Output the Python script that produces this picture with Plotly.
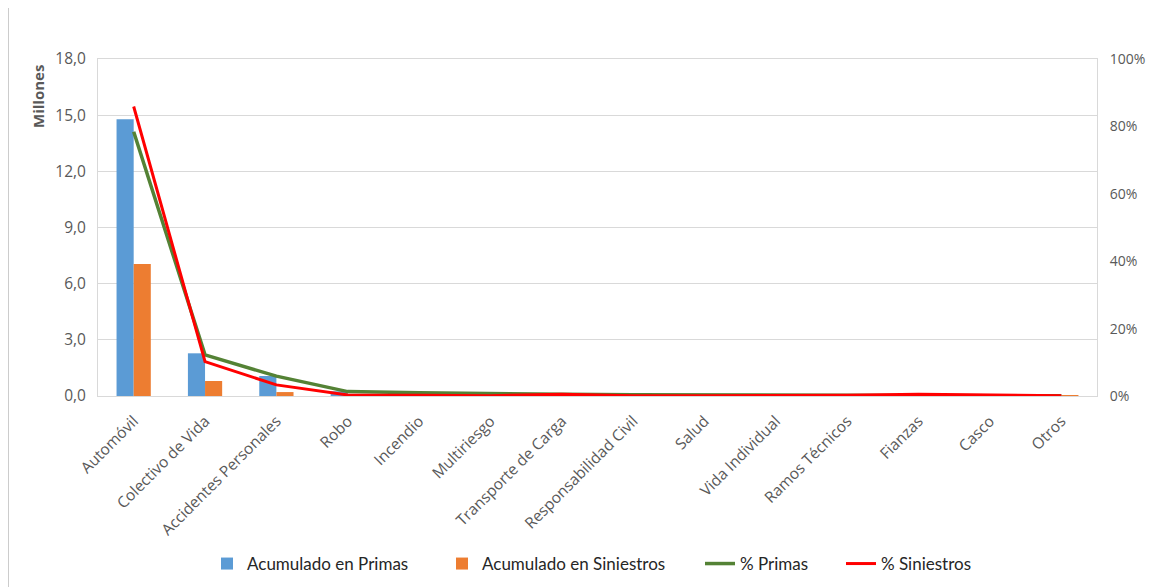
import plotly.graph_objects as go

categorias = ["Automóvil", "Colectivo de Vida", "Accidentes Personales", "Robo", "Incendio",
              "Multiriesgo", "Transporte de Carga", "Responsabilidad Civil", "Salud",
              "Vida Individual", "Ramos Técnicos", "Fianzas", "Casco", "Otros"]
acum_primas = [14.78, 2.28, 1.07, 0.25, 0.17, 0.12, 0.10, 0.07, 0.05, 0.04, 0.04, 0.03, 0.02, 0.01]
acum_siniestros = [7.05, 0.80, 0.21, 0.03, 0.02, 0.01, 0.04, 0.01, 0.01, 0.01, 0.01, 0.03, 0.01, 0.01]
pct_primas = [78.4, 12.2, 5.9, 1.3, 1.0, 0.7, 0.5, 0.4, 0.3, 0.2, 0.2, 0.2, 0.1, 0.1]
pct_siniestros = [85.9, 10.2, 3.3, 0.3, 0.2, 0.1, 0.5, 0.1, 0.1, 0.1, 0.2, 0.5, 0.2, 0.1]

FONT = "Open Sans, Noto Sans, sans-serif"
x_tick_font = dict(family=FONT, size=15.5, color="#595959")
y_tick_font = dict(family=FONT, size=15.5, color="#595959")
y2_tick_font = dict(family=FONT, size=14, color="#595959")

# page body has an 8px margin: figure coordinates = page coordinates - 8
OFF = 8
L, T, R, B = 98 - OFF, 59 - OFF, 1097 - OFF, 396 - OFF
FW, FH = 1154 - OFF, 587 - OFF
W, H = float(R - L), float(B - T)


def lx(px):
    return (px - OFF - L) / W


def ly(py):
    return (B - (py - OFF)) / H


def legend_at(px):
    return dict(orientation="h", x=lx(px), xanchor="left",
                y=ly(564), yanchor="middle",
                font=dict(family="Liberation Sans Narrow, Lato, sans-serif", size=17, color="#262626"),
                itemwidth=30, bgcolor="rgba(0,0,0,0)")


fig = go.Figure()
fig.add_trace(go.Bar(x=categorias, y=acum_primas, name="Acumulado en Primas", legend="legend",
                     marker=dict(color="#5b9bd5", line=dict(width=0))))
fig.add_trace(go.Bar(x=categorias, y=acum_siniestros, name="Acumulado en Siniestros", legend="legend2",
                     marker=dict(color="#ed7d31", line=dict(width=0))))
fig.add_trace(go.Scatter(x=categorias, y=pct_primas, name="% Primas", mode="lines", legend="legend3",
                         line=dict(color="#548235", width=3.5), yaxis="y2"))
fig.add_trace(go.Scatter(x=categorias, y=pct_siniestros, name="% Siniestros", mode="lines", legend="legend4",
                         line=dict(color="#ff0000", width=3), yaxis="y2"))

fig.update_layout(
    width=FW, height=FH,
    margin=dict(l=L, r=FW - R, t=T, b=FH - B, autoexpand=False),
    paper_bgcolor="white", plot_bgcolor="white",
    separators=",.",
    showlegend=True,
    barmode="group", bargap=0.52, bargroupgap=0,
    font=dict(family=FONT, size=14, color="#595959"),
    xaxis=dict(tickangle=-45, tickfont=x_tick_font, showgrid=False,
               showline=True, linecolor="#d9d9d9", linewidth=1, mirror=True,
               ticks="outside", ticklen=9, tickcolor="rgba(0,0,0,0)"),
    yaxis=dict(range=[0, 18], dtick=3, tickformat=".1f", tickfont=y_tick_font,
               showgrid=True, gridcolor="#d9d9d9", gridwidth=1,
               showline=True, linecolor="#d9d9d9", linewidth=1, mirror=True,
               zeroline=False, ticks="outside", ticklen=8, tickcolor="rgba(0,0,0,0)"),
    yaxis2=dict(range=[0, 100], dtick=20, ticksuffix="%", tickfont=y2_tick_font,
                overlaying="y", side="right", showgrid=False, zeroline=False,
                ticks="outside", ticklen=9, tickcolor="rgba(0,0,0,0)"),
    legend=legend_at(207),
    legend2=legend_at(442),
    legend3=legend_at(700),
    legend4=legend_at(841),
    annotations=[dict(text="<b>Millones</b>", textangle=-90, xref="paper", yref="paper",
                      x=lx(38), y=ly(97), xanchor="center", yanchor="middle", showarrow=False,
                      font=dict(family=FONT, size=15, color="#595959"))],
    shapes=[dict(type="rect", xref="paper", yref="paper",
                 x0=lx(8), x1=1.2, y0=-0.7, y1=1.3,
                 line=dict(color="#9a9a9a", width=1), fillcolor="rgba(0,0,0,0)", layer="below")],
)

fig.write_html("out.html")
